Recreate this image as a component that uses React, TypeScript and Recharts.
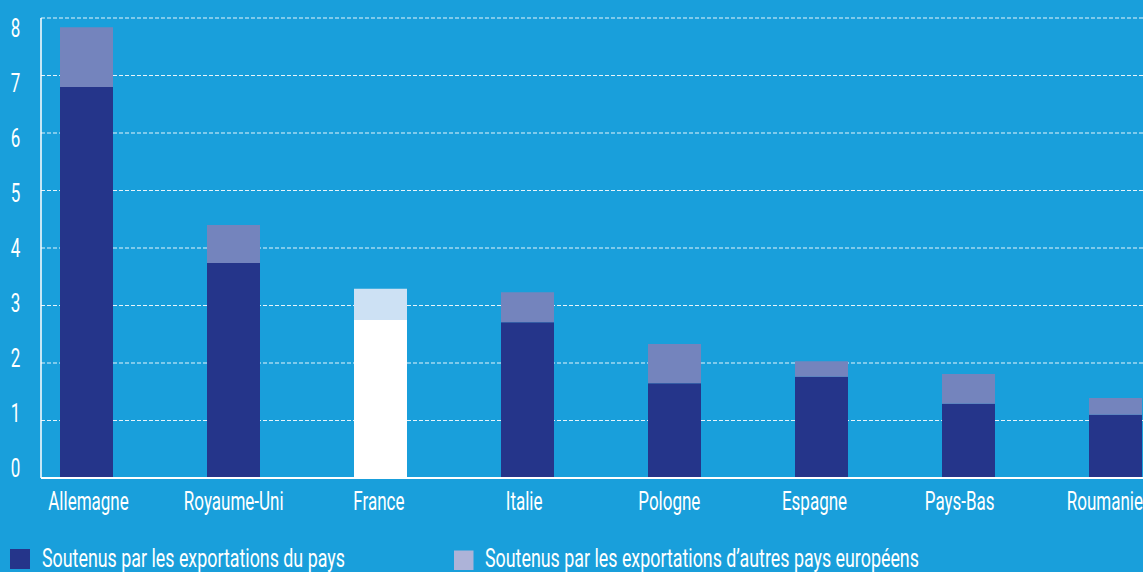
import React from "react";
import { BarChart, Bar, XAxis, YAxis, CartesianGrid, Cell } from "recharts";

const categories = ["Allemagne", "Royaume-Uni", "France", "Italie", "Pologne", "Espagne", "Pays-Bas", "Roumanie"];
const ownExports = [6.8, 3.74, 2.75, 2.71, 1.65, 1.76, 1.29, 1.1];
const otherExports = [1.04, 0.66, 0.54, 0.52, 0.68, 0.27, 0.52, 0.29];
const yTicks = [0, 1, 2, 3, 4, 5, 6, 7, 8];
const legendLabels = ["Soutenus par les exportations du pays", "Soutenus par les exportations d\u2019autres pays européens"];

const data = categories.map((name, i) => ({ name, own: ownExports[i], other: otherExports[i] }));

const BG = "#199fdb";
const DARK = "#25358a";
const LIGHT = "#7484bd";
const LEGEND_LIGHT = "#adb3d8";
const HIGHLIGHT = "France";
const FONT = "Roboto, 'Noto Sans', sans-serif";

const YTick = (props: any) => {
  const v = props.payload.value;
  const y = 476.7 - v * 55;
  return (
    <text transform={`translate(15.5,${y}) scale(0.68,1)`} x={0} y={0} textAnchor="middle" fill="#ffffff" fontSize={25} fontFamily={FONT}>
      {v}
    </text>
  );
};

const XTick = (props: any) => {
  const { x, payload, index } = props;
  const cx = x + 2 - 1.8 * (index ?? 0);
  return (
    <text transform={`translate(${cx},510) scale(0.68,1)`} x={0} y={0} textAnchor="middle" fill="#ffffff" fontSize={25} fontFamily={FONT}>
      {payload.value}
    </text>
  );
};

export default function App() {
  return (
    <div style={{ position: "fixed", left: 0, top: 0, width: 1143, height: 572, background: BG, overflow: "hidden" }}>
      <BarChart
        width={1143}
        height={572}
        data={data}
        margin={{ top: 18, right: 0, bottom: 54, left: 0 }}
        barSize={53}
      >
        <CartesianGrid vertical={false} stroke="#e6f4fb" strokeDasharray="4 2" strokeWidth={1} />
        <XAxis
          dataKey="name"
          height={40}
          padding={{ left: -28, right: -46 }}
          axisLine={{ stroke: "#ffffff", strokeWidth: 2 }}
          tickLine={false}
          tick={<XTick />}
          interval={0}
        />
        <YAxis
          width={41}
          domain={[0, 8]}
          ticks={yTicks}
          axisLine={{ stroke: "#ffffff", strokeWidth: 1.5 }}
          tickLine={false}
          tick={<YTick />}
          interval={0}
        />
        <Bar dataKey="own" stackId="a" isAnimationActive={false}>
          {data.map((d) => (
            <Cell key={d.name} fill={d.name === HIGHLIGHT ? "#ffffff" : DARK} />
          ))}
        </Bar>
        <Bar dataKey="other" stackId="a" isAnimationActive={false}>
          {data.map((d) => (
            <Cell key={d.name} fill={d.name === HIGHLIGHT ? "#cde1f4" : LIGHT} />
          ))}
        </Bar>
      </BarChart>
      <svg width={1143} height={572} style={{ position: "absolute", left: 0, top: 0, pointerEvents: "none" }}>
        <rect x={10} y={549} width={20} height={20} fill={DARK} />
        <text transform="translate(42,566.5) scale(0.714,1)" x={0} y={0} fill="#ffffff" fontSize={25} fontFamily={FONT}>
          {legendLabels[0]}
        </text>
        <rect x={454} y={550.5} width={19.5} height={19.5} fill={LEGEND_LIGHT} />
        <text transform="translate(485,566.5) scale(0.714,1)" x={0} y={0} fill="#ffffff" fontSize={25} fontFamily={FONT}>
          {legendLabels[1]}
        </text>
      </svg>
    </div>
  );
}
